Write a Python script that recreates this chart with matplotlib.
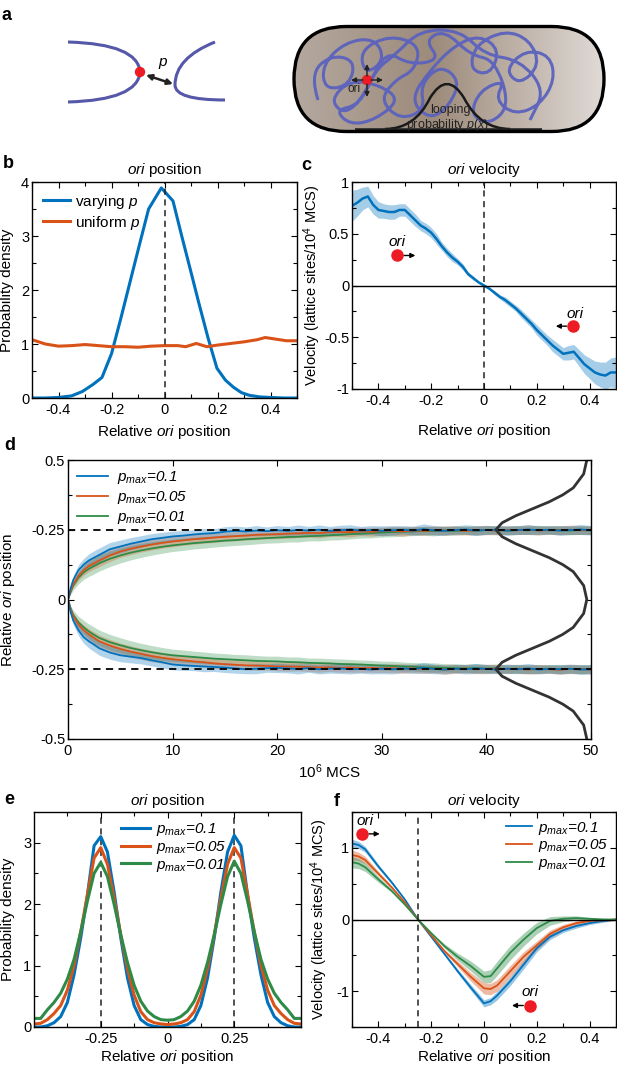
import numpy as np
import matplotlib
matplotlib.use("Agg")
import matplotlib.pyplot as plt
from matplotlib.path import Path
from matplotlib.patches import PathPatch, FancyBboxPatch, Circle
from matplotlib.colors import LinearSegmentedColormap

plt.rcParams['font.family'] = ['Liberation Sans', 'DejaVu Sans']
plt.rcParams['mathtext.fontset'] = 'custom'
plt.rcParams['mathtext.rm'] = 'Liberation Sans'
plt.rcParams['mathtext.it'] = 'Liberation Sans:italic'
plt.rcParams['axes.unicode_minus'] = False
plt.rcParams['font.size'] = 11

BLUE = '#0072BD'
ORANGE = '#D95319'
GREEN = '#2E8B47'
RED = '#ed1c24'

# ---------------- data ----------------
# panel b: ori position distribution
b_x_vary = [-0.5, -0.45, -0.4, -0.35, -0.31, -0.27, -0.236, -0.2, -0.165, -0.13, -0.095, -0.06,
            -0.012, 0.032, 0.065, 0.1, 0.13, 0.165, 0.198, 0.23, 0.26, 0.29, 0.32, 0.36, 0.4, 0.45, 0.5]
b_vary = [0, 0, 0.01, 0.04, 0.12, 0.25, 0.38, 0.82, 1.47, 2.15, 2.83, 3.5,
          3.89, 3.65, 3.0, 2.33, 1.75, 1.1, 0.55, 0.33, 0.2, 0.1, 0.05, 0.02, 0.01, 0, 0]
b_x_unif = [-0.5, -0.45, -0.4, -0.35, -0.3, -0.25, -0.2, -0.15, -0.1, -0.05, 0, 0.05, 0.08,
            0.12, 0.16, 0.2, 0.25, 0.3, 0.35, 0.38, 0.42, 0.46, 0.5]
b_unif = [1.08, 1.0, 0.96, 0.97, 0.99, 0.97, 0.95, 0.95, 0.94, 0.96, 0.97, 0.97, 0.95,
          1.01, 0.95, 0.98, 1.01, 1.04, 1.08, 1.12, 1.09, 1.06, 1.06]

# panel c: ori velocity (x from -0.5 to 0.5 in steps of 0.02)
c_x = np.linspace(-0.5, 0.5, 51)
c_vel = [0.77, 0.80, 0.84, 0.86, 0.78, 0.73, 0.72, 0.71, 0.71, 0.73, 0.73, 0.68, 0.63, 0.58, 0.55,
         0.51, 0.45, 0.38, 0.32, 0.27, 0.23, 0.18, 0.11, 0.07, 0.03, 0.00, -0.03, -0.07, -0.11, -0.14,
         -0.18, -0.22, -0.27, -0.32, -0.37, -0.43, -0.48, -0.53, -0.58, -0.62, -0.66, -0.65, -0.64,
         -0.70, -0.76, -0.80, -0.84, -0.86, -0.87, -0.84, -0.84]
c_err = [0.15, 0.13, 0.11, 0.10, 0.09, 0.08, 0.07, 0.07, 0.07, 0.06, 0.06, 0.06, 0.06, 0.05, 0.05,
         0.05, 0.05, 0.04, 0.04, 0.04, 0.03, 0.03, 0.02, 0.02, 0.01, 0.01, 0.01, 0.02, 0.02, 0.03,
         0.03, 0.03, 0.04, 0.04, 0.04, 0.05, 0.05, 0.05, 0.06, 0.06, 0.06, 0.07, 0.07, 0.08, 0.09,
         0.10, 0.11, 0.12, 0.13, 0.14, 0.15]

# panel d: relative ori position vs time (10^6 MCS)
d_t = [0, 0.25, 0.5, 1, 1.5, 2, 2.5, 3, 4, 5, 6, 7, 8, 9, 10,
       11, 12, 13, 14, 15, 16, 17, 18, 19, 20, 21, 22, 23, 24, 25, 26, 27, 28, 29, 30,
       31, 32, 33, 34, 35, 36, 37, 38, 39, 40, 41, 42, 43, 44, 45, 46, 47, 48, 49, 50]
d_up_01 = [0, 0.04, 0.07, 0.105, 0.125, 0.14, 0.15, 0.16, 0.18, 0.19, 0.2, 0.208, 0.216, 0.221, 0.226,
           0.229, 0.233, 0.236, 0.238, 0.243, 0.246, 0.244, 0.247, 0.245, 0.248,
           0.246, 0.249, 0.247, 0.25, 0.246, 0.248, 0.251, 0.247, 0.249, 0.246,
           0.248, 0.25, 0.247, 0.252, 0.248, 0.246, 0.249, 0.251, 0.247, 0.249,
           0.25, 0.247, 0.249, 0.251, 0.248, 0.25, 0.247, 0.249, 0.251, 0.248]
d_up_005 = [0, 0.03, 0.055, 0.085, 0.105, 0.12, 0.13, 0.14, 0.158, 0.172, 0.182, 0.19, 0.197, 0.203, 0.208,
            0.212, 0.216, 0.219, 0.222, 0.225, 0.227, 0.229, 0.232, 0.233, 0.234,
            0.236, 0.237, 0.239, 0.238, 0.241, 0.242, 0.241, 0.244, 0.243, 0.245,
            0.246, 0.244, 0.247, 0.246, 0.248, 0.247, 0.249, 0.246, 0.248, 0.249,
            0.247, 0.249, 0.248, 0.25, 0.247, 0.249, 0.248, 0.25, 0.248, 0.249]
d_up_001 = [0, 0.028, 0.05, 0.078, 0.097, 0.11, 0.12, 0.13, 0.146, 0.158, 0.168, 0.176, 0.183, 0.189, 0.194,
            0.198, 0.202, 0.205, 0.208, 0.211, 0.213, 0.216, 0.218, 0.22, 0.222,
            0.224, 0.225, 0.227, 0.228, 0.23, 0.232, 0.234, 0.236, 0.238, 0.24,
            0.242, 0.243, 0.244, 0.246, 0.245, 0.247, 0.246, 0.248, 0.247, 0.249,
            0.248, 0.247, 0.249, 0.248, 0.25, 0.248, 0.249, 0.247, 0.249, 0.248]
d_lo_01 = [0, -0.045, -0.075, -0.11, -0.135, -0.15, -0.162, -0.175, -0.19, -0.2, -0.205, -0.21, -0.218, -0.225, -0.233,
           -0.236, -0.238, -0.24, -0.242, -0.244, -0.247, -0.25, -0.248, -0.246, -0.245,
           -0.247, -0.249, -0.246, -0.25, -0.248, -0.247, -0.25, -0.249, -0.251, -0.248,
           -0.25, -0.247, -0.249, -0.245, -0.249, -0.251, -0.248, -0.25, -0.247, -0.249,
           -0.251, -0.248, -0.25, -0.247, -0.251, -0.249, -0.25, -0.248, -0.251, -0.25]
d_lo_005 = [0, -0.035, -0.06, -0.09, -0.11, -0.125, -0.138, -0.15, -0.165, -0.177, -0.187, -0.195, -0.203, -0.209, -0.214,
            -0.218, -0.222, -0.225, -0.229, -0.232, -0.234, -0.236, -0.237, -0.238, -0.24,
            -0.24, -0.241, -0.242, -0.244, -0.243, -0.245, -0.244, -0.246, -0.245, -0.247,
            -0.246, -0.248, -0.247, -0.249, -0.248, -0.251, -0.249, -0.248, -0.25, -0.249,
            -0.248, -0.25, -0.249, -0.251, -0.249, -0.25, -0.252, -0.249, -0.25, -0.251]
d_lo_001 = [0, -0.032, -0.055, -0.082, -0.1, -0.115, -0.127, -0.138, -0.153, -0.164, -0.174, -0.182, -0.189, -0.195, -0.2,
            -0.203, -0.206, -0.209, -0.212, -0.214, -0.216, -0.218, -0.22, -0.221, -0.222,
            -0.224, -0.225, -0.227, -0.228, -0.229, -0.231, -0.232, -0.233, -0.235, -0.237,
            -0.238, -0.24, -0.241, -0.243, -0.244, -0.245, -0.246, -0.247, -0.246, -0.248,
            -0.247, -0.249, -0.248, -0.25, -0.249, -0.248, -0.25, -0.249, -0.25, -0.249]
d_err_01 = [0, 0.01, 0.015, 0.02, 0.022, 0.024, 0.025, 0.025, 0.024, 0.023, 0.022, 0.021, 0.02, 0.02, 0.019,
            0.018, 0.017, 0.019, 0.016, 0.018, 0.017, 0.016, 0.018, 0.015, 0.017,
            0.016, 0.018, 0.015, 0.017, 0.016, 0.018, 0.017, 0.015, 0.016, 0.018,
            0.017, 0.015, 0.016, 0.019, 0.017, 0.016, 0.015, 0.017, 0.018, 0.016,
            0.015, 0.017, 0.016, 0.018, 0.016, 0.015, 0.017, 0.016, 0.018, 0.017]
d_err_005 = [0, 0.008, 0.012, 0.016, 0.018, 0.02, 0.021, 0.022, 0.022, 0.021, 0.021, 0.02, 0.02, 0.019, 0.019,
             0.018, 0.018, 0.017, 0.018, 0.016, 0.017, 0.016, 0.017, 0.015, 0.016,
             0.017, 0.015, 0.016, 0.017, 0.015, 0.016, 0.017, 0.015, 0.016, 0.015,
             0.016, 0.017, 0.015, 0.016, 0.015, 0.017, 0.016, 0.015, 0.016, 0.017,
             0.015, 0.016, 0.015, 0.017, 0.016, 0.015, 0.016, 0.017, 0.015, 0.016]
d_err_001 = [0, 0.01, 0.016, 0.022, 0.025, 0.027, 0.028, 0.028, 0.028, 0.027, 0.026, 0.025, 0.024, 0.023, 0.022,
             0.022, 0.021, 0.021, 0.02, 0.02, 0.019, 0.02, 0.019, 0.018, 0.019,
             0.018, 0.019, 0.017, 0.018, 0.017, 0.018, 0.017, 0.016, 0.017, 0.016,
             0.017, 0.016, 0.015, 0.016, 0.017, 0.015, 0.016, 0.015, 0.016, 0.015,
             0.016, 0.015, 0.016, 0.015, 0.016, 0.015, 0.016, 0.015, 0.016, 0.015]
# looping probability profile drawn at the right edge of panel d
d_loop_y = [-0.5, -0.45, -0.4, -0.375, -0.35, -0.325, -0.3, -0.275, -0.25, -0.225, -0.2, -0.175, -0.15,
            -0.125, -0.1, -0.05, 0, 0.05, 0.1, 0.125, 0.15, 0.175, 0.2, 0.225, 0.25, 0.275, 0.3,
            0.325, 0.35, 0.375, 0.4, 0.45, 0.5]
d_loop_x = [49.6, 49.3, 48.3, 47.3, 46.0, 44.4, 42.8, 41.5, 40.9, 41.5, 42.8, 44.4, 46.0,
            47.3, 48.3, 49.3, 49.6, 49.3, 48.3, 47.3, 46.0, 44.4, 42.8, 41.5, 40.9, 41.5, 42.8,
            44.4, 46.0, 47.3, 48.3, 49.3, 49.6]

# panel e: ori position distributions for three p_max
e_x = [-0.5, -0.475, -0.45, -0.425, -0.4, -0.375, -0.35, -0.325, -0.3, -0.275, -0.25, -0.225, -0.2,
       -0.175, -0.15, -0.125, -0.1, -0.075, -0.05, -0.025, 0, 0.025, 0.05, 0.075, 0.1, 0.125, 0.15,
       0.175, 0.2, 0.225, 0.25, 0.275, 0.3, 0.325, 0.35, 0.375, 0.4, 0.425, 0.45, 0.475, 0.5]
e_01 = [0.0, 0.0, 0.02, 0.07, 0.17, 0.4, 0.85, 1.45, 2.15, 2.95, 3.1, 2.85, 2.2,
        1.45, 0.8, 0.35, 0.12, 0.04, 0.01, 0.0, 0.0, 0.0, 0.01, 0.04, 0.12, 0.35, 0.8,
        1.45, 2.2, 2.85, 3.12, 2.95, 2.15, 1.45, 0.85, 0.4, 0.17, 0.07, 0.02, 0.0, 0.0]
e_005 = [0.05, 0.06, 0.12, 0.22, 0.35, 0.6, 1.0, 1.55, 2.15, 2.75, 2.92, 2.65, 2.1,
         1.5, 0.95, 0.52, 0.25, 0.12, 0.07, 0.05, 0.04, 0.05, 0.07, 0.12, 0.25, 0.52, 0.95,
         1.5, 2.1, 2.65, 2.92, 2.75, 2.15, 1.55, 1.0, 0.6, 0.35, 0.22, 0.12, 0.06, 0.05]
e_001 = [0.14, 0.14, 0.28, 0.4, 0.55, 0.78, 1.1, 1.55, 2.05, 2.5, 2.68, 2.45, 2.0,
         1.5, 1.05, 0.68, 0.42, 0.26, 0.17, 0.12, 0.11, 0.12, 0.17, 0.26, 0.42, 0.68, 1.05,
         1.5, 2.0, 2.45, 2.7, 2.5, 2.05, 1.55, 1.1, 0.78, 0.55, 0.4, 0.28, 0.14, 0.14]

# panel f: ori velocity for three p_max
f_x = [-0.5, -0.475, -0.45, -0.4, -0.35, -0.3, -0.25, -0.2, -0.15, -0.1, -0.05, 0, 0.025, 0.05,
       0.1, 0.15, 0.2, 0.25, 0.3, 0.35, 0.4, 0.45, 0.5]
f_01 = [1.06, 1.04, 0.98, 0.74, 0.52, 0.28, 0.0, -0.24, -0.48, -0.72, -0.95, -1.17, -1.14, -1.06,
        -0.86, -0.63, -0.40, -0.24, -0.15, -0.09, -0.05, -0.02, 0.0]
f_005 = [0.90, 0.88, 0.83, 0.64, 0.45, 0.24, 0.0, -0.22, -0.44, -0.62, -0.80, -0.96, -0.97, -0.92,
         -0.72, -0.52, -0.36, -0.20, -0.11, -0.05, -0.02, -0.01, 0.0]
f_001 = [0.80, 0.78, 0.73, 0.56, 0.40, 0.21, 0.0, -0.19, -0.37, -0.52, -0.65, -0.80, -0.79, -0.68,
         -0.46, -0.28, -0.12, -0.02, 0.01, 0.02, 0.01, 0.0, 0.0]
f_err_01 = [0.06, 0.05, 0.04, 0.03, 0.02, 0.01, 0.0, 0.01, 0.02, 0.03, 0.04, 0.05, 0.05, 0.06,
            0.06, 0.06, 0.05, 0.04, 0.03, 0.03, 0.02, 0.02, 0.01]
f_err_005 = [0.07, 0.06, 0.05, 0.03, 0.02, 0.01, 0.0, 0.01, 0.02, 0.04, 0.06, 0.08, 0.08, 0.08,
             0.08, 0.07, 0.06, 0.05, 0.04, 0.03, 0.02, 0.02, 0.01]
f_err_001 = [0.08, 0.07, 0.06, 0.04, 0.02, 0.01, 0.0, 0.01, 0.03, 0.05, 0.07, 0.08, 0.09, 0.1,
             0.1, 0.09, 0.08, 0.06, 0.04, 0.03, 0.02, 0.02, 0.01]

pmax_labels = [r'$p_{max}$=0.1', r'$p_{max}$=0.05', r'$p_{max}$=0.01']

# tick labels
pos_ticks = [-0.4, -0.2, 0, 0.2, 0.4]
pos_ticklabels = ['-0.4', '-0.2', '0', '0.2', '0.4']
d_yticks = [-0.5, -0.25, 0, 0.25, 0.5]
d_yticklabels = ['-0.5', '-0.25', '0', '-0.25', '0.5']
e_xticks = [-0.25, 0, 0.25]
e_xticklabels = ['-0.25', '0', '0.25']

W, H = 617, 1067
fig = plt.figure(figsize=(W / 100, H / 100), dpi=100)


def box(l, t, r, b):
    return [l / W, 1 - b / H, (r - l) / W, (b - t) / H]


def style(ax):
    ax.tick_params(which='both', direction='in', top=True, right=True, width=0.8, labelsize=10.5)
    ax.tick_params(which='major', length=4)
    ax.tick_params(which='minor', length=3)
    ax.tick_params(axis='y', pad=2)
    for s in ax.spines.values():
        s.set_linewidth(1.0)


def dot(ax, x, y, tx, ty, ax2):
    ax.plot([x], [y], 'o', color=RED, ms=8, zorder=6)
    ax.text(tx, ty, 'ori', style='italic', fontsize=11, ha='center', va='center')
    ax.annotate('', xy=(ax2, y), xytext=(x, y),
                arrowprops=dict(arrowstyle='-|>', color='k', lw=1, mutation_scale=7,
                                shrinkA=5, shrinkB=0), zorder=5)


# ---------------- panel a (schematic) ----------------
axa = fig.add_axes([0, 1 - 145 / H, 1, 145 / H])
axa.axis('off')


def smooth(pts):
    verts = [pts[0]]
    codes = [Path.MOVETO]
    for i in range(1, len(pts) - 1):
        mid = ((pts[i][0] + pts[i + 1][0]) / 2, (pts[i][1] + pts[i + 1][1]) / 2)
        verts += [pts[i], mid]
        codes += [Path.CURVE3, Path.CURVE3]
    verts.append(pts[-1])
    codes.append(Path.LINETO)
    return Path(verts, codes)


left_curve = Path([(68, 42), (138, 44), (140, 72), (138, 100), (68, 102)],
                  [Path.MOVETO, Path.CURVE3, Path.CURVE3, Path.CURVE3, Path.CURVE3])
right_curve = Path([(215, 42), (175, 58), (175, 85), (175, 100), (225, 100)],
                   [Path.MOVETO, Path.CURVE3, Path.CURVE3, Path.CURVE3, Path.CURVE3])
for pth in (left_curve, right_curve):
    axa.add_patch(PathPatch(pth, fc='none', ec='#5557a8', lw=2.2))
axa.add_patch(Circle((140, 72), 4.5, color=RED, zorder=5))
axa.annotate('', xy=(173, 84), xytext=(146, 75),
             arrowprops=dict(arrowstyle='<|-|>', color='#222222', lw=1.8, mutation_scale=8,
                             shrinkA=0, shrinkB=0))
axa.text(163, 62, 'p', style='italic', fontsize=11, ha='center', va='center')

cell = FancyBboxPatch((294, 26.5), 310, 105, boxstyle='round,pad=0,rounding_size=52.5',
                      fc='none', ec='black', lw=2.4, zorder=4)
cmap = LinearSegmentedColormap.from_list('cell', [(0, '#b4a89f'), (0.45, '#9d8b7b'), (1, '#e0dad6')])
grad = np.linspace(0, 1, 256)[None, :]
im = axa.imshow(grad, extent=(294, 604, 131.5, 26.5), cmap=cmap, aspect='auto', zorder=1)
bg = FancyBboxPatch((294, 26.5), 310, 105, boxstyle='round,pad=0,rounding_size=52.5',
                    fc='none', ec='none', transform=axa.transData)
axa.add_patch(bg)
im.set_clip_path(bg)
axa.add_patch(cell)

scribble = [(318, 100), (310, 75), (330, 55), (355, 60), (350, 85), (325, 90), (322, 65), (345, 42),
            (375, 38), (385, 60), (365, 75), (360, 50), (390, 35), (420, 45), (415, 70), (395, 80),
            (380, 100), (400, 120), (425, 110), (420, 85), (440, 65), (460, 80), (450, 105),
            (430, 120), (410, 100), (430, 70), (455, 45), (480, 35), (500, 50), (490, 75),
            (470, 70), (475, 45), (505, 30), (530, 40), (540, 65), (520, 85), (505, 70), (525, 50),
            (550, 55), (555, 80), (540, 105), (515, 115), (495, 100), (505, 80), (480, 90),
            (470, 115), (490, 125), (510, 105), (495, 60), (470, 55), (445, 30), (425, 40),
            (440, 60), (410, 65), (385, 50), (365, 95), (345, 115), (330, 100), (350, 80),
            (380, 85), (400, 100), (375, 120), (350, 125), (335, 110), (360, 105), (375, 70),
            (395, 55), (420, 30), (460, 30), (485, 55), (520, 60), (545, 90), (530, 120)]
axa.add_patch(PathPatch(smooth(scribble), fc='none', ec='#5b62bd', lw=2.2, alpha=0.95, zorder=2))

loop_bump = Path([(385, 129), (415, 129), (430, 98), (447, 70), (464, 98), (480, 129), (510, 129)],
                 [Path.MOVETO, Path.CURVE3, Path.CURVE3, Path.CURVE3, Path.CURVE3, Path.CURVE3, Path.CURVE3])
axa.add_patch(PathPatch(loop_bump, fc='none', ec='#1a1a1a', lw=1.8, zorder=3))
axa.plot([355, 542], [130, 130], color='#222222', lw=2.6, solid_capstyle='butt', zorder=3)
axa.text(450, 110, 'looping', fontsize=9, ha='center', va='center', color='#222222', zorder=5)
axa.text(448, 125, r'probability $p(x)$', fontsize=9, ha='center', va='center', color='#222222', zorder=5)

axa.add_patch(Circle((367, 80), 4.5, color=RED, zorder=6))
for tip in [(367, 64), (367, 97), (351, 80), (383, 80)]:
    axa.annotate('', xy=tip, xytext=(367, 80),
                 arrowprops=dict(arrowstyle='-|>', color='#222222', lw=1.0, mutation_scale=7,
                                 shrinkA=3, shrinkB=0), zorder=6)
axa.text(354, 89, 'ori', fontsize=8.5, ha='center', va='center', color='#222222', zorder=6)
axa.set_xlim(0, W)
axa.set_ylim(145, 0)

# ---------------- panel b ----------------
axb = fig.add_axes(box(32, 182, 297, 398))
axb.plot(b_x_vary, b_vary, color=BLUE, lw=2.2, label='varying $p$')
axb.plot(b_x_unif, b_unif, color=ORANGE, lw=2.2, label='uniform $p$')
axb.axvline(0, color='#222222', ls=(0, (4, 3)), lw=1.1)
axb.set_xlim(-0.5, 0.5)
axb.set_ylim(0, 4)
axb.set_xticks(pos_ticks, pos_ticklabels)
axb.set_xticks([-0.5, -0.3, -0.1, 0.1, 0.3, 0.5], minor=True)
axb.set_yticks([0, 1, 2, 3, 4], ['0', '1', '2', '3', '4'])
axb.set_yticks([0.5, 1.5, 2.5, 3.5], minor=True)
axb.set_title('$ori$ position', fontsize=11, pad=6)
axb.set_xlabel('Relative $ori$ position', fontsize=11)
axb.set_ylabel('Probability density', fontsize=11)
axb.xaxis.set_label_coords(0.5, -0.115)
axb.yaxis.set_label_coords(-0.068, 0.5)
axb.legend(loc='upper left', frameon=False, fontsize=11, handlelength=1.8, borderaxespad=0.3,
           labelspacing=0.2, handletextpad=0.3)
style(axb)

# ---------------- panel c ----------------
axc = fig.add_axes(box(352, 182, 616, 389))
axc.fill_between(c_x, np.array(c_vel) - np.array(c_err), np.array(c_vel) + np.array(c_err),
                 color=BLUE, alpha=0.35, lw=0)
axc.plot(c_x, c_vel, color=BLUE, lw=1.8)
axc.axhline(0, color='k', lw=1.0)
axc.axvline(0, color='#222222', ls=(0, (4, 3)), lw=1.1)
dot(axc, -0.33, 0.29, -0.33, 0.42, -0.26)
dot(axc, 0.339, -0.393, 0.343, -0.274, 0.272)
axc.set_xlim(-0.5, 0.5)
axc.set_ylim(-1, 1)
axc.set_xticks(pos_ticks, pos_ticklabels)
axc.set_xticks([-0.5, -0.3, -0.1, 0.1, 0.3, 0.5], minor=True)
axc.set_yticks([-1, -0.5, 0, 0.5, 1], ['-1', '-0.5', '0', '0.5', '1'])
axc.set_yticks([-0.75, -0.25, 0.25, 0.75], minor=True)
axc.set_title('$ori$ velocity', fontsize=11, pad=6)
axc.set_xlabel('Relative $ori$ position', fontsize=11)
axc.set_ylabel('Velocity (lattice sites/10$^4$ MCS)', fontsize=10.5)
axc.xaxis.set_label_coords(0.5, -0.16)
axc.yaxis.set_label_coords(-0.11, 0.5)
style(axc)

# ---------------- panel d ----------------
axd = fig.add_axes(box(68, 460, 591, 739))
series_d = [(d_up_01, d_lo_01, d_err_01, BLUE), (d_up_005, d_lo_005, d_err_005, ORANGE),
            (d_up_001, d_lo_001, d_err_001, GREEN)]
for up, lo, err, col in series_d[::-1]:
    for ys in (up, lo):
        ys = np.array(ys)
        axd.fill_between(d_t, ys - np.array(err), ys + np.array(err), color=col, alpha=0.3, lw=0)
for (up, lo, err, col), lab in list(zip(series_d, pmax_labels))[::-1]:
    axd.plot(d_t, up, color=col, lw=1.3, label=lab)
    axd.plot(d_t, lo, color=col, lw=1.3)
axd.plot([0, 50], [0.25, 0.25], color='k', ls=(0, (4, 3)), lw=1.3)
axd.plot([0, 50], [-0.25, -0.25], color='k', ls=(0, (4, 3)), lw=1.3)
axd.plot(d_loop_x, d_loop_y, color='#333333', lw=2.0)
axd.set_xlim(0, 50)
axd.set_ylim(-0.5, 0.5)
axd.set_xticks([0, 10, 20, 30, 40, 50], ['0', '10', '20', '30', '40', '50'])
axd.set_yticks(d_yticks, d_yticklabels)
axd.set_yticks([-0.375, -0.125, 0.125, 0.375], minor=True)
axd.set_xlabel('10$^6$ MCS', fontsize=11)
axd.set_ylabel('Relative $ori$ position', fontsize=11)
axd.xaxis.set_label_coords(0.5, -0.085)
axd.yaxis.set_label_coords(-0.098, 0.5)
h, l = axd.get_legend_handles_labels()
axd.legend(h[::-1], l[::-1], loc='upper left', frameon=False, prop={'style': 'italic', 'size': 11},
           handlelength=2.0, borderaxespad=0.2, labelspacing=0.2, handletextpad=0.6)
style(axd)

# ---------------- panel e ----------------
axe = fig.add_axes(box(34, 812, 301, 1027))
for ys, col, lab in zip([e_01, e_005, e_001], [BLUE, ORANGE, GREEN], pmax_labels):
    axe.plot(e_x, ys, color=col, lw=2.2, label=lab)
axe.axvline(-0.25, color='#222222', ls=(0, (4, 3)), lw=1.1, zorder=0)
axe.axvline(0.25, color='#222222', ls=(0, (4, 3)), lw=1.1, zorder=0)
axe.set_xlim(-0.5, 0.5)
axe.set_ylim(0, 3.5)
axe.set_xticks(e_xticks, e_xticklabels)
axe.set_xticks([-0.375, -0.125, 0.125, 0.375], minor=True)
axe.set_yticks([0, 1, 2, 3], ['0', '1', '2', '3'])
axe.set_yticks([0.5, 1.5, 2.5], minor=True)
axe.set_title('$ori$ position', fontsize=11, pad=5)
axe.set_xlabel('Relative $ori$ position', fontsize=11)
axe.set_ylabel('Probability density', fontsize=11)
axe.xaxis.set_label_coords(0.5, -0.1)
axe.yaxis.set_label_coords(-0.07, 0.5)
axe.legend(loc='upper left', bbox_to_anchor=(0.29, 1.0), frameon=False,
           prop={'style': 'italic', 'size': 11}, handlelength=1.9, borderaxespad=0.2,
           labelspacing=0.05, handletextpad=0.4)
style(axe)

# ---------------- panel f ----------------
axf = fig.add_axes(box(352, 812, 616, 1027))
for ys, err, col in zip([f_01, f_005, f_001], [f_err_01, f_err_005, f_err_001], [BLUE, ORANGE, GREEN]):
    ys = np.array(ys)
    axf.fill_between(f_x, ys - np.array(err), ys + np.array(err), color=col, alpha=0.4, lw=0)
for ys, col, lab in zip([f_01, f_005, f_001], [BLUE, ORANGE, GREEN], pmax_labels):
    axf.plot(f_x, ys, color=col, lw=1.3, label=lab)
axf.axhline(0, color='k', lw=1.0)
axf.axvline(-0.25, color='#222222', ls=(0, (4, 3)), lw=1.1)
dot(axf, -0.462, 1.195, -0.45, 1.37, -0.395)
dot(axf, 0.175, -1.2, 0.175, -1.01, 0.106)
axf.set_xlim(-0.5, 0.5)
axf.set_ylim(-1.5, 1.5)
axf.set_xticks(pos_ticks, pos_ticklabels)
axf.set_xticks([-0.5, -0.3, -0.1, 0.1, 0.3, 0.5], minor=True)
axf.set_yticks([-1, 0, 1], ['-1', '0', '1'])
axf.set_yticks([-1.5, -0.5, 0.5, 1.5], minor=True)
axf.set_title('$ori$ velocity', fontsize=11, pad=5)
axf.set_xlabel('Relative $ori$ position', fontsize=11)
axf.set_ylabel('Velocity (lattice sites/10$^4$ MCS)', fontsize=10.5)
axf.xaxis.set_label_coords(0.5, -0.1)
axf.yaxis.set_label_coords(-0.085, 0.5)
axf.legend(loc='upper right', frameon=False, prop={'style': 'italic', 'size': 11},
           handlelength=1.7, borderaxespad=0.1, labelspacing=0.05, handletextpad=0.4)
style(axf)

# panel letters
for lab, x, y in [('a', 7, 15), ('b', 8.5, 164), ('c', 306, 166), ('d', 10, 445),
                  ('e', 9, 800), ('f', 337, 801)]:
    fig.text(x / W, 1 - y / H, lab, fontsize=13, fontweight='bold', ha='center', va='center')

fig.savefig('out.png', dpi=100)
